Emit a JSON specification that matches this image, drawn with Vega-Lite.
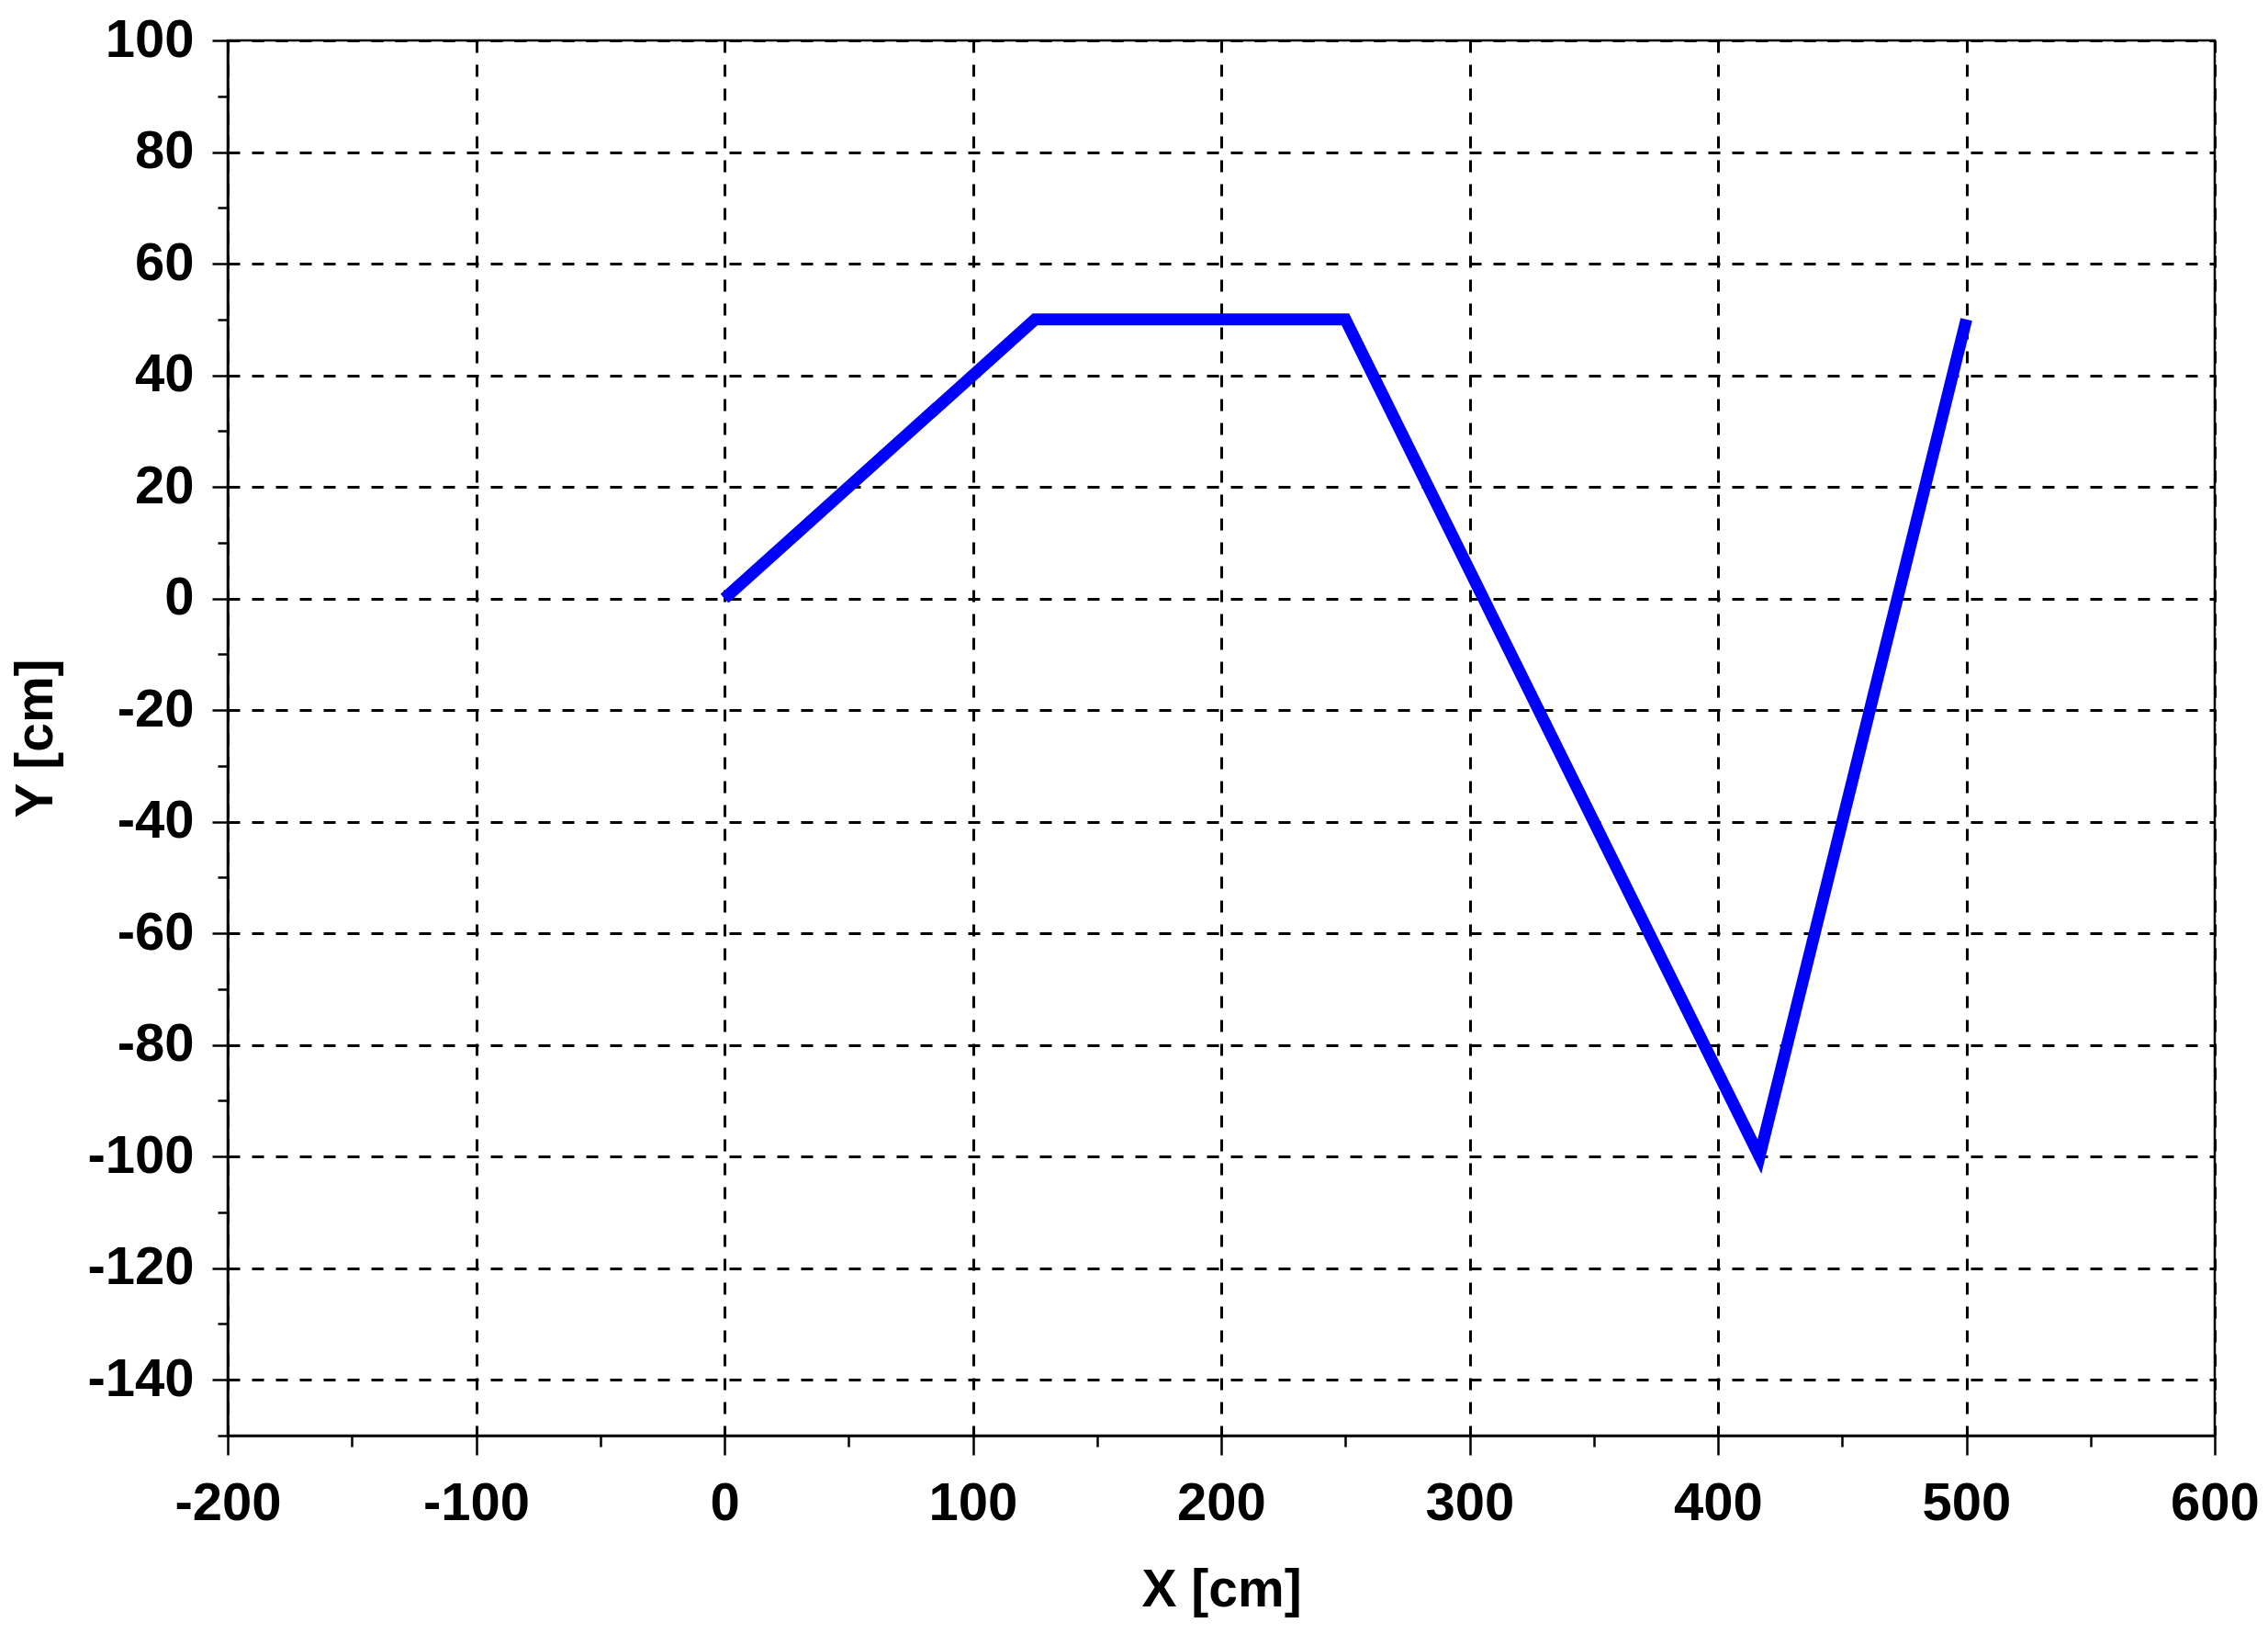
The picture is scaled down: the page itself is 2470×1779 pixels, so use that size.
{
  "$schema": "https://vega.github.io/schema/vega-lite/v6.json",
  "width": 2164,
  "height": 1519,
  "autosize": {"type": "none"},
  "padding": {"left": 248, "top": 44, "right": 58, "bottom": 216},
  "background": "white",
  "config": {
    "view": {"stroke": "black", "strokeWidth": 2.5},
    "axis": {
      "domainColor": "black",
      "domainWidth": 2.5,
      "tickColor": "black",
      "tickWidth": 2.5,
      "gridColor": "black",
      "gridWidth": 3,
      "gridDash": [13, 13],
      "labelFont": "Liberation Sans",
      "labelFontWeight": "bold",
      "labelFontSize": 58,
      "labelColor": "black",
      "titleFont": "Liberation Sans",
      "titleFontWeight": "bold",
      "titleFontSize": 57,
      "titleColor": "black"
    }
  },
  "data": {
    "values": [
      {"x": 0, "y": 0},
      {"x": 125, "y": 50},
      {"x": 250, "y": 50},
      {"x": 416.7, "y": -100},
      {"x": 500, "y": 50}
    ]
  },
  "mark": {"type": "line", "color": "#0000ff", "strokeWidth": 13, "strokeJoin": "miter", "strokeCap": "butt"},
  "encoding": {
    "x": {
      "field": "x",
      "type": "quantitative",
      "scale": {"domain": [-200, 600], "nice": false, "zero": false},
      "axis": {
        "title": "X [cm]",
        "values": [-200, -150, -100, -50, 0, 50, 100, 150, 200, 250, 300, 350, 400, 450, 500, 550, 600],
        "labelExpr": "datum.value % 100 === 0 ? '' + datum.value : ''",
        "tickSize": {"condition": {"test": "datum.value % 100 === 0", "value": 21}, "value": 12},
        "gridOpacity": {"condition": {"test": "datum.value % 100 === 0", "value": 1}, "value": 0},
        "labelPadding": 24,
        "labelFlush": false,
        "labelOverlap": false,
        "titlePadding": 37
      }
    },
    "y": {
      "field": "y",
      "type": "quantitative",
      "scale": {"domain": [-150, 100], "nice": false, "zero": false},
      "axis": {
        "title": "Y [cm]",
        "values": [-150, -140, -130, -120, -110, -100, -90, -80, -70, -60, -50, -40, -30, -20, -10, 0, 10, 20, 30, 40, 50, 60, 70, 80, 90, 100],
        "labelExpr": "datum.value % 20 === 0 ? '' + datum.value : ''",
        "tickSize": {"condition": {"test": "datum.value % 20 === 0", "value": 17}, "value": 11},
        "gridOpacity": {"condition": {"test": "datum.value % 20 === 0", "value": 1}, "value": 0},
        "labelPadding": 20,
        "labelFlush": false,
        "labelOverlap": false,
        "titlePadding": 26
      }
    }
  }
}
